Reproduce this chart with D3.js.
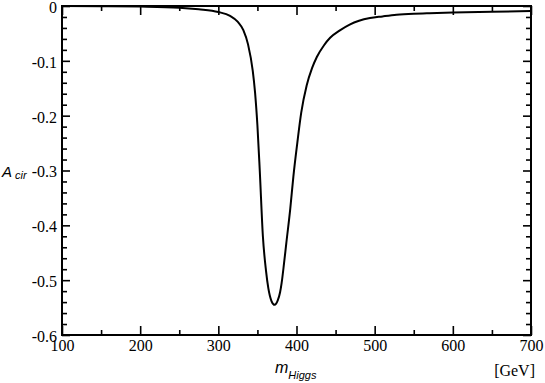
<!DOCTYPE html>
<html>
<head>
<meta charset="utf-8">
<script src="https://cdn.jsdelivr.net/npm/d3@7"></script>
<style>
	body { margin: 0; background: #fff; }
	svg { display: block; }
	.tick line { stroke: #000; stroke-width: 1.6; }
	.lbl { font-family: "Liberation Sans", Arial, sans-serif; font-style: italic; fill: #000; }
</style>
</head>
<body>
<script>
// curve: m_Higgs [GeV] vs A_cir
let mass = [100, 150, 200, 250, 275, 300, 315, 325, 332, 338, 344, 347, 350, 353, 357, 361, 364, 368, 372, 376, 379, 381, 384, 387, 392, 396, 401, 406, 413, 420, 426, 435, 443, 455, 468, 480, 494, 510, 528, 550, 570, 600, 650, 700];
let acir = [0, -0.0003, -0.001, -0.003, -0.006, -0.011, -0.018, -0.029, -0.044, -0.07, -0.118, -0.158, -0.218, -0.3, -0.42, -0.483, -0.515, -0.538, -0.545, -0.537, -0.522, -0.505, -0.47, -0.432, -0.37, -0.311, -0.25, -0.195, -0.145, -0.113, -0.093, -0.072, -0.058, -0.045, -0.034, -0.027, -0.022, -0.019, -0.016, -0.014, -0.013, -0.012, -0.0105, -0.009];

let xTicks = [100, 200, 300, 400, 500, 600, 700];
let yTicks = [0, -0.1, -0.2, -0.3, -0.4, -0.5, -0.6];

let width = 545, height = 383;
let margin = {left: 62, right: 14, top: 6, bottom: 48};

let serif = '"Liberation Serif", "Times New Roman", serif';

let svg = d3.select('body').append('svg')
	.attr('width', width)
	.attr('height', height);

let x = d3.scaleLinear().domain([100, 700]).range([margin.left, width - margin.right]);
let y = d3.scaleLinear().domain([-0.6, 0]).range([height - margin.bottom, margin.top]);

let xMinor = d3.range(150, 700, 100);
let yMinor = d3.range(0, 30).map(i => -0.02 * i).filter(v => Math.abs(Math.round(v * 50) % 5) != 0);

function tickFont(g) {
	g.select('.domain').remove();
	g.selectAll('text')
		.style('font-family', serif)
		.style('font-size', '16px')
		.style('fill', '#000');
}

// labelled axes, ticks point inward
svg.append('g').attr('transform', 'translate(0,' + y(-0.6) + ')')
	.call(d3.axisBottom(x).tickValues(xTicks).tickFormat(d3.format('d')).tickSize(-9).tickPadding(5))
	.call(tickFont);
svg.append('g').attr('transform', 'translate(' + x(100) + ',0)')
	.call(d3.axisLeft(y).tickValues(yTicks).tickFormat(d => d == 0 ? '0' : d.toFixed(1)).tickSize(-8).tickPadding(5))
	.call(tickFont)
	.call(g => g.selectAll('text').attr('dy', '0.4em'));

// unlabelled ticks: top, right and minor ones
svg.append('g').attr('transform', 'translate(0,' + y(0) + ')')
	.call(d3.axisTop(x).tickValues(xTicks).tickFormat('').tickSize(-9))
	.call(tickFont);
svg.append('g').attr('transform', 'translate(' + x(700) + ',0)')
	.call(d3.axisRight(y).tickValues(yTicks).tickFormat('').tickSize(-8))
	.call(tickFont);
svg.append('g').attr('transform', 'translate(0,' + y(-0.6) + ')')
	.call(d3.axisBottom(x).tickValues(xMinor).tickFormat('').tickSize(-5))
	.call(tickFont);
svg.append('g').attr('transform', 'translate(0,' + y(0) + ')')
	.call(d3.axisTop(x).tickValues(xMinor).tickFormat('').tickSize(-5))
	.call(tickFont);
svg.append('g').attr('transform', 'translate(' + x(100) + ',0)')
	.call(d3.axisLeft(y).tickValues(yMinor).tickFormat('').tickSize(-5))
	.call(tickFont);
svg.append('g').attr('transform', 'translate(' + x(700) + ',0)')
	.call(d3.axisRight(y).tickValues(yMinor).tickFormat('').tickSize(-5))
	.call(tickFont);

// frame
svg.append('rect')
	.attr('x', x(100)).attr('y', y(0))
	.attr('width', x(700) - x(100)).attr('height', y(-0.6) - y(0))
	.attr('fill', 'none').attr('stroke', '#000').attr('stroke-width', 2);

let pts = mass.map((m, i) => [m, acir[i]]);
let line = d3.line().x(d => x(d[0])).y(d => y(d[1])).curve(d3.curveMonotoneX);
svg.append('path')
	.datum(pts)
	.attr('d', line)
	.attr('fill', 'none')
	.attr('stroke', '#000')
	.attr('stroke-width', 2);

// axis titles
let ya = svg.append('text').attr('class', 'lbl').attr('x', 2).attr('y', 177);
ya.append('tspan').attr('font-size', 15).text('A');
ya.append('tspan').attr('font-size', 11).attr('dx', 3).attr('dy', 2).text('cir');

let xa = svg.append('text').attr('class', 'lbl').attr('x', 275).attr('y', 373);
xa.append('tspan').attr('font-size', 16).text('m');
xa.append('tspan').attr('font-size', 11).attr('dy', 6).text('Higgs');

svg.append('text')
	.attr('x', 535).attr('y', 376)
	.attr('text-anchor', 'end')
	.style('font-family', serif)
	.style('font-size', '16px')
	.text('[GeV]');
</script>
</body>
</html>
